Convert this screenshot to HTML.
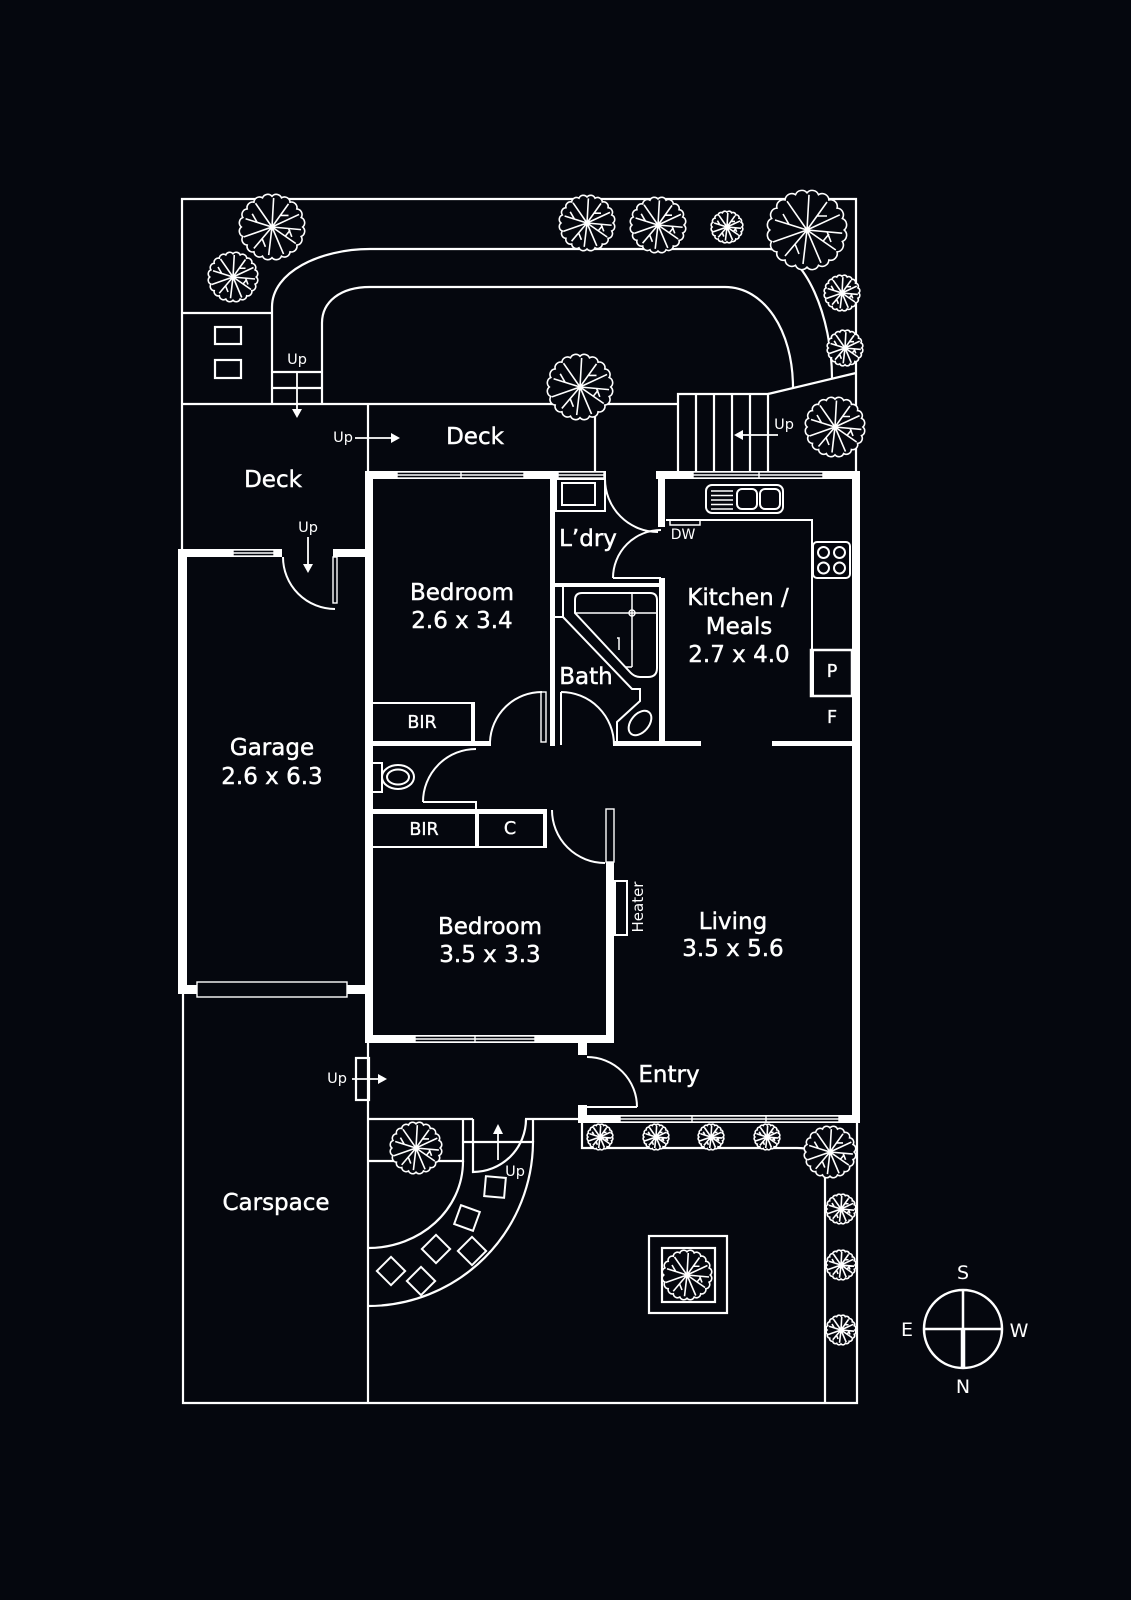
<!DOCTYPE html>
<html><head><meta charset="utf-8"><style>
html,body{margin:0;padding:0;background:#05070e;}
svg{display:block;}
text{font-family:"DejaVu Sans","Liberation Sans",sans-serif;fill:#fff;text-anchor:middle;dominant-baseline:central;}
.t{font-size:23px;stroke:#fff;stroke-width:0.45px;}
.s{font-size:17.5px;stroke:#fff;stroke-width:0.35px;}
.u{font-size:14.5px;}
</style></head><body>
<svg width="1131" height="1600" viewBox="0 0 1131 1600" xmlns="http://www.w3.org/2000/svg">
<defs>
<symbol id="tr" viewBox="-1 -1 2 2" overflow="visible">
<path d="M.93,0 A.17,.17 0 0 1 .884,.287 A.17,.17 0 0 1 .752,.547 A.17,.17 0 0 1 .547,.752 A.17,.17 0 0 1 .287,.884 A.17,.17 0 0 1 0,.93 A.17,.17 0 0 1 -.287,.884 A.17,.17 0 0 1 -.547,.752 A.17,.17 0 0 1 -.752,.547 A.17,.17 0 0 1 -.884,.287 A.17,.17 0 0 1 -.93,0 A.17,.17 0 0 1 -.884,-.287 A.17,.17 0 0 1 -.752,-.547 A.17,.17 0 0 1 -.547,-.752 A.17,.17 0 0 1 -.287,-.884 A.17,.17 0 0 1 0,-.93 A.17,.17 0 0 1 .287,-.884 A.17,.17 0 0 1 .547,-.752 A.17,.17 0 0 1 .752,-.547 A.17,.17 0 0 1 .884,-.287 A.17,.17 0 0 1 .93,0 Z" fill="#05070e" stroke="#fff" stroke-width="1.6" vector-effect="non-scaling-stroke"/>
<path d="M0,0 L.88,.08 M0,0 L.72,.5 M.4,.28 L.55,.1 M0,0 L.35,.82 M0,0 L-.1,.85 M0,0 L-.55,.65 M-.3,.35 L-.2,.6 M0,0 L-.85,.3 M0,0 L-.8,-.25 M-.45,-.14 L-.6,-.4 M0,0 L-.5,-.72 M0,0 L.05,-.88 M0,0 L.5,-.7 M.25,-.35 L.5,-.35 M0,0 L.82,-.38 M.5,.04 L.6,.3" fill="none" stroke="#fff" stroke-width="1.6" vector-effect="non-scaling-stroke"/>
</symbol>
</defs>
<rect width="1131" height="1600" fill="#05070e"/>

<!-- lot boundary & garden lines -->
<g fill="none" stroke="#fff" stroke-width="2.2">
<path d="M182,549 V199 H856 V472"/>
<path d="M183,994 V1403 H857 V1123"/>
<path d="M182,313 H272"/>
<path d="M272,404 V307 C272,272 320,249 370,249 H770 C806,252 832,318 832,378"/>
<path d="M322,404 V323 C322,302 340,287 370,287 H725 C764,287 793,330 793,388"/>
<path d="M768,394 L856,373"/>
<path d="M182,404 H678"/>
<path d="M678,472 V394 H768 V472 M696,394 V472 M714,394 V472 M732,394 V472 M750,394 V472"/>
<rect x="215" y="327" width="26" height="17"/>
<rect x="215" y="360" width="26" height="18"/>
<path d="M272,372 H322 M272,388 H322"/>
<path d="M368,404 V471 M595,404 V471"/>
<!-- lower -->
<path d="M368,994 V1403"/>
<rect x="356" y="1058" width="13" height="42"/>
<path d="M368,1119 H473 M463,1119 V1161 H368"/>
<path d="M473,1119 V1172 A53,53 0 0 0 526,1119"/>
<path d="M463,1142 H533 M533,1119 V1142 M525,1119 H578"/>
<path d="M533,1141 A165,165 0 0 1 368,1306"/>
<path d="M463,1161 C463,1210 420,1248 368,1248"/>
<path d="M582,1123 V1148 H797 C808,1148 812,1150 815,1156"/>
<path d="M825,1177 V1403"/>
<rect x="649" y="1236" width="78" height="77"/>
<rect x="662" y="1248" width="53" height="54"/>
</g>
<!-- pavers -->
<g fill="none" stroke="#fff" stroke-width="2">
<rect x="-10" y="-10" width="20" height="20" transform="translate(495,1187) rotate(5)"/>
<rect x="-10" y="-10" width="20" height="20" transform="translate(467,1218) rotate(20)"/>
<rect x="-10" y="-10" width="20" height="20" transform="translate(472,1251) rotate(45)"/>
<rect x="-10" y="-10" width="20" height="20" transform="translate(436,1249) rotate(45)"/>
<rect x="-10" y="-10" width="20" height="20" transform="translate(391,1271) rotate(45)"/>
<rect x="-10" y="-10" width="20" height="20" transform="translate(421,1281) rotate(45)"/>
</g>

<!-- arrows -->
<g stroke="#fff" stroke-width="1.8" fill="#fff">
<path d="M297,372 V410" fill="none"/><path d="M292,409 L297,418 L302,409 Z" stroke="none"/>
<path d="M355,438 H392" fill="none"/><path d="M391,433 L400,438 L391,443 Z" stroke="none"/>
<path d="M778,435 H742" fill="none"/><path d="M743,430 L734,435 L743,440 Z" stroke="none"/>
<path d="M308,537 V565" fill="none"/><path d="M303,564 L308,573 L313,564 Z" stroke="none"/>
<path d="M352,1079 H379" fill="none"/><path d="M378,1074 L387,1079 L378,1084 Z" stroke="none"/>
<path d="M498,1160 V1133" fill="none"/><path d="M493,1134 L498,1124 L503,1134 Z" stroke="none"/>
</g>

<!-- trees -->
<g>
<use href="#tr" x="239" y="194" width="66" height="66"/>
<use href="#tr" x="208" y="252" width="50" height="50"/>
<use href="#tr" x="559" y="195" width="56" height="56"/>
<use href="#tr" x="630" y="197" width="56" height="56"/>
<use href="#tr" x="711" y="211" width="32" height="32"/>
<use href="#tr" x="767" y="190" width="80" height="80"/>
<use href="#tr" x="824" y="275" width="36" height="36"/>
<use href="#tr" x="827" y="330" width="36" height="36"/>
<use href="#tr" x="805" y="397" width="60" height="60"/>
<use href="#tr" x="547" y="354" width="66" height="66"/>
<use href="#tr" x="390" y="1122" width="52" height="52"/>
<use href="#tr" x="587" y="1124" width="26" height="26"/>
<use href="#tr" x="643" y="1124" width="26" height="26"/>
<use href="#tr" x="698" y="1124" width="26" height="26"/>
<use href="#tr" x="754" y="1124" width="26" height="26"/>
<use href="#tr" x="804" y="1126" width="52" height="52"/>
<use href="#tr" x="826" y="1194" width="30" height="30"/>
<use href="#tr" x="826" y="1250" width="30" height="30"/>
<use href="#tr" x="826" y="1315" width="30" height="30"/>
<use href="#tr" x="662" y="1250" width="50" height="50"/>
</g>

<!-- walls -->
<g fill="#fff">
<rect x="365" y="471" width="192" height="8"/>
<rect x="550" y="471" width="56" height="8"/>
<rect x="656" y="471" width="204" height="8"/>
<rect x="852" y="471" width="8" height="652"/>
<rect x="578" y="1115" width="282" height="8"/>
<rect x="578" y="1035" width="9" height="20"/>
<rect x="578" y="1105" width="9" height="18"/>
<rect x="365" y="1035" width="249" height="8"/>
<rect x="365" y="471" width="8" height="572"/>
<rect x="178" y="549" width="9" height="445"/>
<rect x="178" y="549" width="104" height="8"/>
<rect x="333" y="549" width="40" height="8"/>
<rect x="178" y="985" width="195" height="9"/>
<rect x="550" y="471" width="5" height="275"/>
<rect x="658" y="471" width="7" height="56"/>
<rect x="555" y="583" width="110" height="4"/>
<rect x="659" y="578" width="6" height="168"/>
<rect x="365" y="741" width="126" height="5"/>
<rect x="613" y="741" width="88" height="5"/>
<rect x="772" y="741" width="88" height="5"/>
<rect x="471" y="703" width="4" height="42"/>
<rect x="365" y="809" width="181" height="5"/>
<rect x="475" y="809" width="4" height="39"/>
<rect x="543" y="809" width="4" height="39"/>
<rect x="606" y="862" width="8" height="181"/>
<rect x="811" y="650" width="3" height="46"/>
</g>

<!-- windows -->
<g fill="#05070e" stroke="#fff" stroke-width="1.4">
<rect x="397" y="472" width="127" height="6"/><path d="M397,475 H524 M461,472 V478"/>
<rect x="558" y="472" width="46" height="6"/><path d="M558,475 H604"/>
<rect x="693" y="472" width="130" height="6"/><path d="M693,475 H823 M759,472 V478"/>
<rect x="620" y="1116" width="219" height="6"/><path d="M620,1119 H839 M692,1116 V1122 M766,1116 V1122"/>
<rect x="415" y="1036" width="120" height="6"/><path d="M415,1039 H535 M475,1036 V1042"/>
<rect x="233" y="550" width="41" height="6"/><path d="M233,553 H274"/>
<rect x="197" y="982" width="150" height="15"/>
<rect x="541" y="692" width="5" height="50"/>
<rect x="606" y="809" width="8" height="53"/>
<rect x="333" y="557" width="4" height="46"/>
</g>

<!-- thin interior lines, doors, fixtures -->
<g fill="none" stroke="#fff" stroke-width="2">
<path d="M283,557 A52,52 0 0 0 335,609"/>
<path d="M490,742 A52,52 0 0 1 542,692"/>
<path d="M561,692 V745 M561,692 A53,53 0 0 1 614,745"/>
<path d="M605,479 A53,53 0 0 0 658,532"/>
<path d="M613,578 H661 M613,578 A48,48 0 0 1 661,530"/>
<path d="M423,802 H476 V809 M423,802 A53,53 0 0 1 476,749"/>
<path d="M552,810 A53,53 0 0 0 605,863"/>
<path d="M587,1057 A50,50 0 0 1 637,1107 M587,1107 H637"/>
<path d="M372,703 H475"/>
<path d="M372,847 H546"/>
<rect x="372" y="763" width="10" height="29"/>
<ellipse cx="398" cy="777" rx="16" ry="12"/>
<ellipse cx="398" cy="777" rx="11" ry="7.5"/>
<rect x="615" y="881" width="12" height="54"/>
<path d="M666,520 H812 V650"/>
<rect x="811" y="650" width="41" height="46" stroke-width="2.5"/>
<rect x="670" y="520" width="30" height="5" stroke-width="1.5"/>
<rect x="706" y="485" width="77" height="28" rx="6"/>
<path d="M711,491 H733 M711,495.5 H733 M711,500 H733 M711,504.5 H733 M711,509 H733" stroke-width="1.5"/>
<rect x="737" y="489" width="20" height="20" rx="5"/>
<rect x="760" y="489" width="20" height="20" rx="5"/>
<rect x="813" y="542" width="37" height="36" rx="4"/>
<circle cx="823.5" cy="552.5" r="5.5"/><circle cx="839.5" cy="552.5" r="5.5"/>
<circle cx="823.5" cy="568" r="5.5"/><circle cx="839.5" cy="568" r="5.5"/>
<rect x="556" y="479" width="49" height="32"/>
<rect x="562" y="483" width="33" height="22"/>
<!-- bath -->
<path d="M555,617 H563 V587 M563,617 L632,689 H640 V701 L617,722 V745"/>
<path d="M582,593 H650 Q657,593 657,600 V668 Q657,677 648,677 H640 Q634,677 629,671 L575,613 V600 Q575,593 582,593 Z"/>
<path d="M575,613 H657 M632,593 V667" stroke-width="1.5"/>
<circle cx="632" cy="613" r="3" stroke-width="1.5"/>
<path d="M617,638 H619 V650 M632,640 V650 M625,667 H632" stroke-width="1.5"/>
<ellipse cx="640" cy="723" rx="14" ry="9" transform="rotate(-50 640 723)"/>
</g>

<!-- compass -->
<g fill="none" stroke="#fff">
<circle cx="963" cy="1329" r="39" stroke-width="2.5"/>
<path d="M924,1329 H1002 M963,1290 V1329" stroke-width="2.5"/>
<path d="M963,1329 V1368" stroke-width="4.5"/>
</g>

<!-- labels -->
<text class="t" x="475" y="437">Deck</text>
<text class="t" x="273" y="480">Deck</text>
<text class="t" x="462" y="593">Bedroom</text>
<text class="t" x="462" y="621">2.6 x 3.4</text>
<text class="t" x="588" y="539">L’dry</text>
<text class="t" x="738" y="598">Kitchen /</text>
<text class="t" x="739" y="627">Meals</text>
<text class="t" x="739" y="655">2.7 x 4.0</text>
<text class="t" x="586" y="677">Bath</text>
<text class="t" x="272" y="748">Garage</text>
<text class="t" x="272" y="777">2.6 x 6.3</text>
<text class="s" x="422" y="723">BIR</text>
<text class="s" x="424" y="830">BIR</text>
<text class="s" x="510" y="829">C</text>
<text class="s" x="832" y="672">P</text>
<text class="s" x="832" y="718">F</text>
<text x="683" y="535" style="font-size:14px">DW</text>
<text x="638" y="907" style="font-size:15px" transform="rotate(-90 638 907)">Heater</text>
<text class="t" x="490" y="927">Bedroom</text>
<text class="t" x="490" y="955">3.5 x 3.3</text>
<text class="t" x="733" y="922">Living</text>
<text class="t" x="733" y="949">3.5 x 5.6</text>
<text class="t" x="669" y="1075">Entry</text>
<text class="t" x="276" y="1203">Carspace</text>
<text class="u" x="297" y="360">Up</text>
<text class="u" x="343" y="438">Up</text>
<text class="u" x="784" y="425">Up</text>
<text class="u" x="308" y="528">Up</text>
<text class="u" x="337" y="1079">Up</text>
<text class="u" x="515" y="1172">Up</text>
<text x="963" y="1273" style="font-size:19px">S</text>
<text x="907" y="1330" style="font-size:19px">E</text>
<text x="1019" y="1331" style="font-size:19px">W</text>
<text x="963" y="1387" style="font-size:19px">N</text>
</svg>
</body></html>
